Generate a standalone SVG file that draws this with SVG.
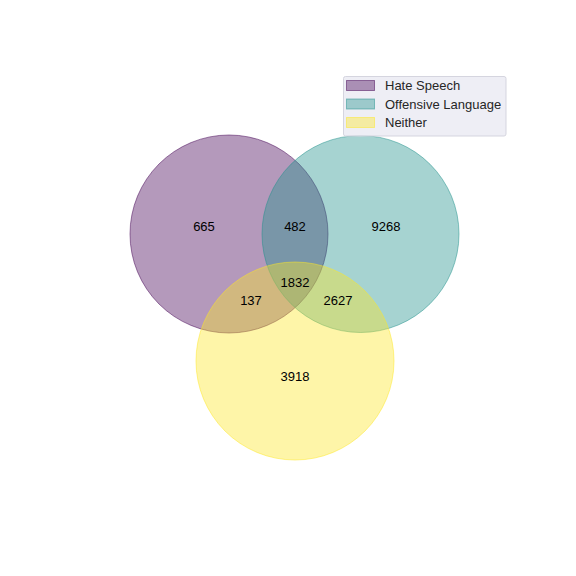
<svg xmlns="http://www.w3.org/2000/svg" width="576" height="576" viewBox="0 0 576 576">
<style>
.c{stroke-width:1;fill-opacity:0.4;stroke-opacity:0.5}
.t{font-family:"Liberation Sans",Arial,sans-serif;font-size:13px;fill:#000;text-anchor:middle}
.l{font-family:"Liberation Sans",Arial,sans-serif;font-size:13px;fill:#262626}
</style>
<rect width="576" height="576" fill="#ffffff"/>
<g id="sets">
<g id="hate"><circle class="c" cx="229" cy="234" r="99" fill="#440154" stroke="#440154"/></g>
<g id="offensive"><circle class="c" cx="360.5" cy="234" r="98.5" fill="#21918c" stroke="#21918c"/></g>
<g id="neither"><circle class="c" cx="295" cy="361" r="99" fill="#fde725" stroke="#fde725"/></g>
</g>
<g id="labels">
<text class="t" x="204" y="230.5">665</text>
<text class="t" x="295" y="230.5">482</text>
<text class="t" x="386" y="230.5">9268</text>
<text class="t" x="295" y="286.5">1832</text>
<text class="t" x="251" y="305">137</text>
<text class="t" x="338" y="305">2627</text>
<text class="t" x="295" y="380.5">3918</text>
</g>
<g id="legend">
<rect x="343.5" y="76.5" width="162.5" height="59.5" rx="2" fill="#eaeaf2" fill-opacity="0.8" stroke="#d5d5df"/>
<rect x="346.5" y="80.5" width="28" height="10" fill="#440154" fill-opacity="0.4" stroke="#440154" stroke-opacity="0.5"/>
<rect x="346.5" y="99" width="28" height="10" fill="#21918c" fill-opacity="0.4" stroke="#21918c" stroke-opacity="0.5"/>
<rect x="346.5" y="117.5" width="28" height="10" fill="#fde725" fill-opacity="0.4" stroke="#fde725" stroke-opacity="0.5"/>
<text class="l" x="385" y="90">Hate Speech</text>
<text class="l" x="385" y="108.5">Offensive Language</text>
<text class="l" x="385" y="127">Neither</text>
</g>
</svg>
